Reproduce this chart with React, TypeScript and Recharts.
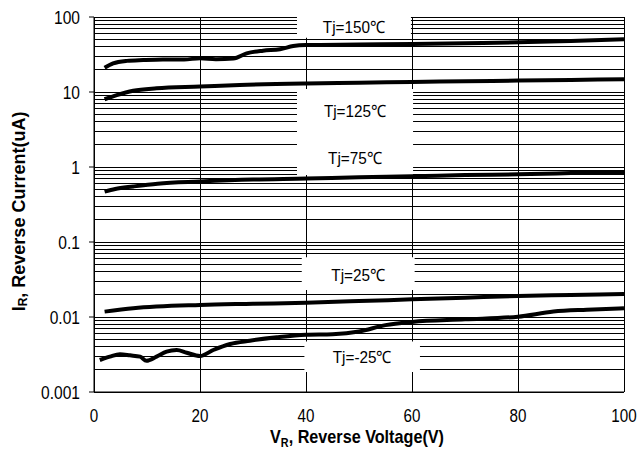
import React from 'react'
import { LineChart, Line, XAxis, YAxis, CartesianGrid, ReferenceArea } from 'recharts'

const xTicks = [0, 20, 40, 60, 80, 100]
const decades = [0.001, 0.01, 0.1, 1, 10, 100]
const gridSteps = [1, 2, 3, 4, 5, 6, 7, 8, 9]
const yGrid = decades
  .slice(0, -1)
  .flatMap((d) => gridSteps.map((s) => +(d * s).toPrecision(3)))
  .concat(100)

// Tj=150
const v150 = [2, 3.6, 6.2, 9.3, 13, 17, 20, 23, 26.3, 28.8, 31.9, 35.1, 37.6, 40, 50, 60, 70, 80, 90, 100]
const i150 = [21, 24, 26, 26.7, 27.2, 27.2, 28.1, 27.4, 28, 32.8, 35.6, 37.1, 41, 42.3, 43, 43.8, 44.8, 46, 48, 50.5]
// Tj=125
const v125 = [2, 4.3, 7.4, 11.8, 20, 27.5, 40, 50, 60, 70, 80, 90, 100]
const i125 = [8.0, 9.1, 10.4, 11.2, 11.8, 12.4, 13.0, 13.3, 13.6, 13.9, 14.2, 14.5, 14.8]
// Tj=75
const v75 = [2, 4, 7.4, 12, 20, 30, 40, 50, 60, 70, 80, 90, 100]
const i75 = [0.47, 0.51, 0.55, 0.6, 0.64, 0.68, 0.7, 0.73, 0.75, 0.78, 0.8, 0.83, 0.86]
// Tj=25
const v25 = [2, 7.4, 20, 30, 40, 50, 60, 70, 80, 90, 100]
const i25 = [0.0118, 0.0131, 0.0145, 0.015, 0.0155, 0.0163, 0.0172, 0.0181, 0.0191, 0.0197, 0.0203]
// Tj=-25
const vm25 = [1.1, 3, 4.9, 6.8, 8.7, 9.9, 11.8, 13.7, 15.6, 17.5, 20, 22.5, 25.7, 29.4, 34.5, 40, 45, 50, 55, 60, 70, 80, 86.7, 93, 100]
const im25 = [
  0.00267, 0.00296, 0.00318, 0.00308, 0.00296, 0.00261, 0.00296, 0.00345, 0.00363, 0.00334, 0.00302, 0.00363,
  0.00437, 0.00483, 0.00536, 0.0058, 0.0059, 0.0064, 0.0078, 0.0086, 0.0093, 0.0101, 0.0118, 0.0125, 0.0131,
]

const toPoints = (xs: number[], ys: number[]) => xs.map((v, k) => ({ v, i: ys[k] }))

const series = [
  { name: 'Tj=150℃', data: toPoints(v150, i150) },
  { name: 'Tj=125℃', data: toPoints(v125, i125) },
  { name: 'Tj=75℃', data: toPoints(v75, i75) },
  { name: 'Tj=25℃', data: toPoints(v25, i25) },
  { name: 'Tj=-25℃', data: toPoints(vm25, im25) },
]

// white label boxes over the grid
const boxes = [
  { text: 'Tj=150℃', x1: 38.3, x2: 59.8, y1: 53, y2: 106, dy: 0 },
  { text: 'Tj=125℃', x1: 38.3, x2: 60.2, y1: 2.84, y2: 11, dy: 0 },
  { text: 'Tj=75℃', x1: 38.3, x2: 60.2, y1: 0.78, y2: 2.84, dy: 4 },
  { text: 'Tj=25℃', x1: 39.2, x2: 60.5, y1: 0.0229, y2: 0.0624, dy: 1 },
  { text: 'Tj=-25℃', x1: 39.7, x2: 61.5, y1: 0.00185, y2: 0.0047, dy: 0 },
]

const FONT = "'Liberation Sans', Arial, sans-serif"

const isDecade = (v: number) => Math.abs(Math.log10(v) - Math.round(Math.log10(v))) < 1e-6

// horizontally squeezed text, to mimic a narrow face
const Narrow = ({ x, y, sx, children, ...rest }: any) => (
  <text transform={`translate(${x} ${y}) scale(${sx} 1)`} fontFamily={FONT} fill="#000" {...rest}>
    {children}
  </text>
)

const YTick = ({ x, y, payload }: any) => {
  if (!isDecade(payload.value)) return null
  return (
    <g>
      <line x1={x + 9} x2={x + 14} y1={y} y2={y} stroke="#000" />
      <Narrow x={x} y={y} sx={0.82} textAnchor="end" dominantBaseline="central" fontSize={19}>
        {String(payload.value)}
      </Narrow>
    </g>
  )
}

const XTick = ({ x, y, payload }: any) => (
  <Narrow x={x} y={y + 28} sx={0.8} textAnchor="middle" fontSize={19}>
    {payload.value}
  </Narrow>
)

export default function App() {
  return (
    <div style={{ position: 'absolute', left: 0, top: 0, width: 638, height: 461, overflow: 'visible' }}>
      <LineChart
        width={638}
        height={461}
        margin={{ top: 17, right: 14, bottom: 0, left: 8 }}
        style={{ overflow: 'visible' }}
      >
        <CartesianGrid stroke="#000" strokeWidth={1} shapeRendering="crispEdges" />
        <XAxis
          type="number"
          dataKey="v"
          domain={[0, 100]}
          ticks={xTicks}
          tick={<XTick />}
          tickLine={false}
          tickSize={0}
          axisLine={{ stroke: '#000' }}
          height={69}
          label={(p: any) => (
            <Narrow
              x={p.viewBox.x + p.viewBox.width / 2 - 2}
              y={p.viewBox.y + 51}
              sx={0.9}
              textAnchor="middle"
              fontWeight="bold"
              fontSize={18}
            >
              V<tspan fontSize={12} dy={4}>R</tspan>
              <tspan dy={-4}>, Reverse Voltage(V)</tspan>
            </Narrow>
          )}
        />
        <YAxis
          scale="log"
          domain={[0.001, 100]}
          ticks={yGrid}
          interval={0}
          tick={<YTick />}
          tickLine={false}
          tickSize={5}
          tickMargin={9}
          axisLine={{ stroke: '#000' }}
          width={86}
          allowDataOverflow
          label={(p: any) => {
            const cx = 19
            const cy = p.viewBox.y + p.viewBox.height / 2 + 7
            return (
              <text
                transform={`translate(${cx} ${cy}) rotate(-90)`}
                textAnchor="middle"
                dominantBaseline="central"
                fontFamily={FONT}
                fontWeight="bold"
                fontSize={18}
                fill="#000"
              >
                I<tspan fontSize={12} dy={4}>R</tspan>
                <tspan dy={-4}>, Reverse Current(uA)</tspan>
              </text>
            )
          }}
        />
        {boxes.map((b) => (
          <ReferenceArea
            key={b.text}
            x1={b.x1}
            x2={b.x2}
            y1={b.y1}
            y2={b.y2}
            fill="#fff"
            fillOpacity={1}
            stroke="none"
            ifOverflow="visible"
            label={(p: any) => (
              <Narrow
                x={p.viewBox.x + p.viewBox.width / 2}
                y={p.viewBox.y + p.viewBox.height / 2 + b.dy}
                sx={0.9}
                textAnchor="middle"
                dominantBaseline="central"
                fontSize={17}
              >
                {b.text}
              </Narrow>
            )}
          />
        ))}
        {series.map((s) => (
          <Line
            key={s.name}
            data={s.data}
            dataKey="i"
            name={s.name}
            type="monotone"
            stroke="#000"
            strokeWidth={4}
            dot={false}
            isAnimationActive={false}
          />
        ))}
      </LineChart>
    </div>
  )
}
